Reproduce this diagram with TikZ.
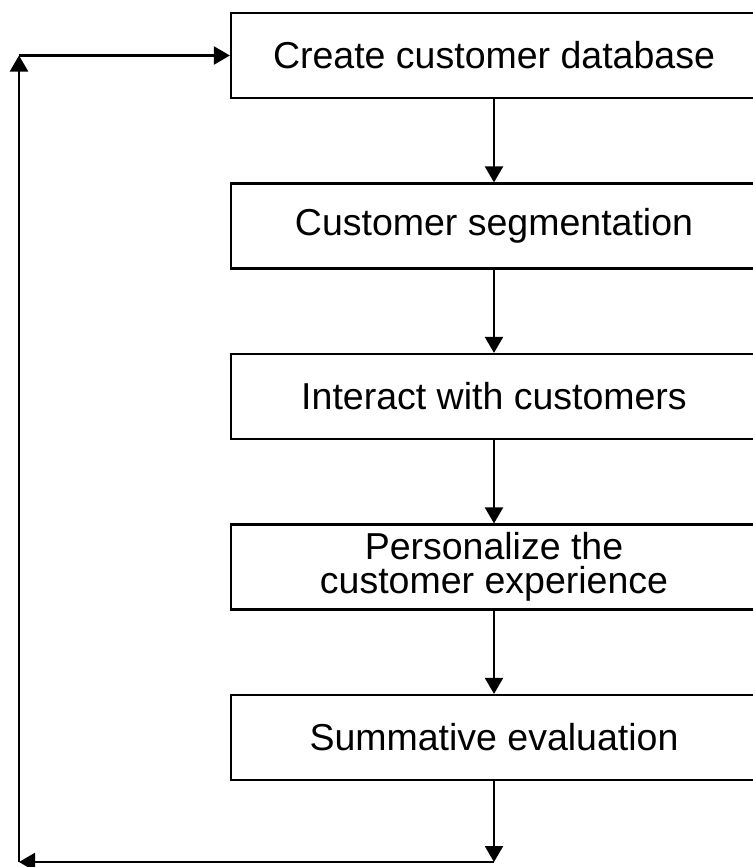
\documentclass[tikz,border=0pt]{standalone}
\usepackage{fontspec}
\setmainfont{Liberation Sans}
\usetikzlibrary{positioning,arrows.meta}

\begin{document}
\begin{tikzpicture}[
    x=1pt, y=1pt,
    node distance=83.3pt,
    stepbox/.style = {draw, line width=2.2pt, rectangle, minimum width=526pt,
      minimum height=85pt, inner sep=0pt, align=center,
      font=\fontsize{37.5}{33.5}\selectfont},
    flow/.style = {line width=2.2pt, -{Triangle[length=16pt,width=18pt]}}
  ]
  \useasboundingbox (0,0) rectangle (752,-867);
  % process steps
  \node [stepbox] (db) at (494,-55.5) {Create customer database};
  \node [stepbox, below=of db] (seg) {Customer segmentation};
  \node [stepbox, below=of seg] (interact) {Interact with customers};
  \node [stepbox, below=of interact] (personal) {Personalize the\\customer experience};
  \node [stepbox, below=of personal] (evalbox) {Summative evaluation};
  % feedback loop corners
  \coordinate (br) at (494,-862);
  \coordinate (bl) at (19,-862);
  \coordinate (tl) at (19,-55.5);

  \draw [flow] (db) -- (seg);
  \draw [flow] (seg) -- (interact);
  \draw [flow] (interact) -- (personal);
  \draw [flow] (personal) -- (evalbox);
  \draw [flow] (evalbox) -- (br);
  \draw [flow] (br) -- (bl);
  \draw [flow] (bl) -- (tl);
  \draw [flow] (tl) -- (db);
\end{tikzpicture}
\end{document}
